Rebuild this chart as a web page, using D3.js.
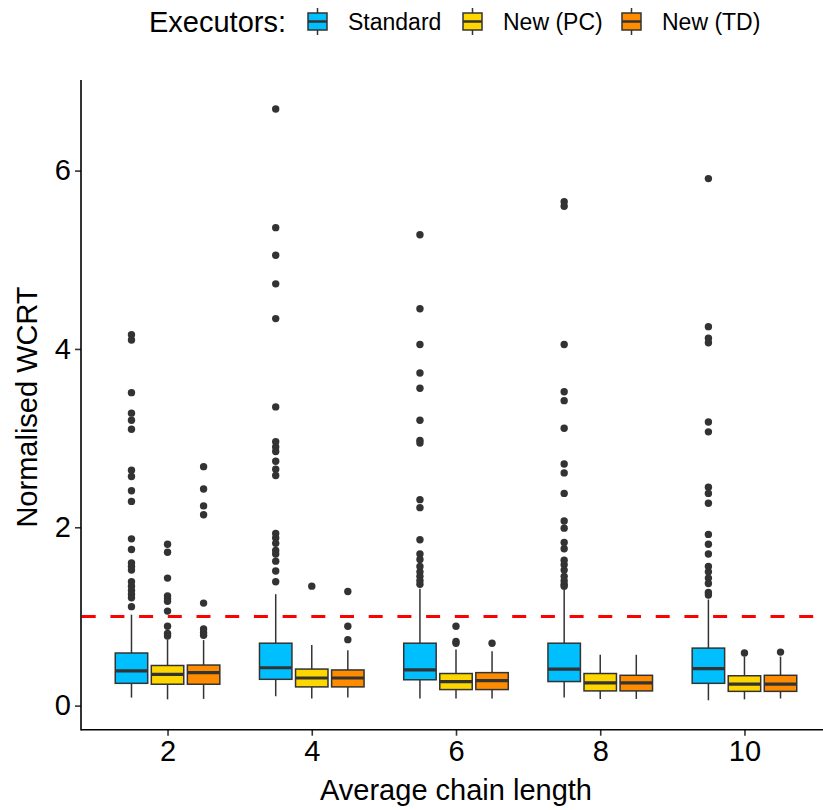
<!DOCTYPE html>
<html>
<head>
<meta charset="utf-8">
<script src="https://cdn.jsdelivr.net/npm/d3@7"></script>
<style>
  body { margin: 0; background: #fff; }
  svg { display: block; font-family: "Liberation Sans", Arial, Helvetica, sans-serif; }
</style>
</head>
<body>
<svg id="chart" width="823" height="810"></svg>
<script>
// chain length groups and executor series
const categories = ["2", "4", "6", "8", "10"]
const seriesNames = ["Standard", "New (PC)", "New (TD)"]
const seriesColors = ["#00BFFF", "#FFD700", "#FF8C00"]
const yTicks = [0, 2, 4, 6]

// box stats per group: [lower whisker, q1, median, q3, upper whisker]
const standardStats = [
  [0.09, 0.25, 0.39, 0.59, 1.02],
  [0.105, 0.295, 0.425, 0.70, 1.25],
  [0.08, 0.29, 0.40, 0.70, 1.31],
  [0.09, 0.27, 0.41, 0.70, 1.31],
  [0.06, 0.25, 0.415, 0.645, 1.19]
]
const pcStats = [
  [0.07, 0.24, 0.35, 0.45, 0.74],
  [0.08, 0.21, 0.31, 0.41, 0.68],
  [0.08, 0.18, 0.27, 0.36, 0.63],
  [0.075, 0.165, 0.255, 0.36, 0.57],
  [0.07, 0.16, 0.24, 0.335, 0.55]
]
const tdStats = [
  [0.075, 0.24, 0.37, 0.455, 0.735],
  [0.09, 0.21, 0.31, 0.40, 0.62],
  [0.08, 0.18, 0.28, 0.37, 0.61],
  [0.075, 0.165, 0.255, 0.34, 0.57],
  [0.08, 0.16, 0.24, 0.34, 0.55]
]

// outliers per group
const standardOutliers = [
  [4.16, 4.10, 3.51, 3.28, 3.20, 3.10, 2.64, 2.57, 2.41, 2.29, 1.87, 1.75, 1.60, 1.56, 1.52, 1.39, 1.34, 1.29, 1.25, 1.21, 1.11],
  [6.69, 5.36, 5.05, 4.73, 4.34, 3.35, 2.96, 2.90, 2.85, 2.74, 2.65, 2.58, 1.93, 1.88, 1.82, 1.74, 1.70, 1.62, 1.51, 1.39],
  [5.28, 4.45, 4.05, 3.73, 3.56, 3.20, 2.975, 2.945, 2.31, 2.22, 1.86, 1.70, 1.64, 1.56, 1.50, 1.45, 1.40, 1.36],
  [5.65, 5.60, 4.05, 3.52, 3.42, 3.11, 2.71, 2.61, 2.38, 2.07, 1.99, 1.83, 1.76, 1.63, 1.58, 1.52, 1.45, 1.40, 1.36, 1.34],
  [5.91, 4.25, 4.12, 4.07, 3.18, 3.07, 2.45, 2.38, 2.27, 1.92, 1.81, 1.70, 1.56, 1.50, 1.43, 1.37, 1.27, 1.24]
]
const pcOutliers = [
  [1.81, 1.72, 1.43, 1.23, 1.20, 1.17, 1.06, 0.89, 0.81, 0.78],
  [1.34],
  [0.89, 0.72, 0.70],
  [],
  [0.59]
]
const tdOutliers = [
  [2.68, 2.43, 2.24, 2.14, 1.15, 0.86, 0.82, 0.79],
  [1.28, 0.89, 0.74],
  [0.70],
  [],
  [0.60]
]

const threshold = 1

const allStats = [standardStats, pcStats, tdStats]
const allOutliers = [standardOutliers, pcOutliers, tdOutliers]

const svg = d3.select("#chart")

const plotLeft = 81, plotRight = 831, plotTop = 80, plotBottom = 729.7

let x = d3.scalePoint()
          .domain(categories)
          .range([plotLeft, plotRight])
          .padding(0.6)

let y = d3.scaleLinear()
          .domain([-0.27, 7.016])
          .range([plotBottom, plotTop])

const step = x.step()
const dodge = step * 0.75 / 3
const boxW = dodge * 0.9
const dark = "#333333"

// threshold line
svg.append("line")
   .attr("x1", plotLeft + 0.7)
   .attr("x2", 823)
   .attr("y1", y(threshold))
   .attr("y2", y(threshold))
   .attr("stroke", "#FF0000")
   .attr("stroke-width", 3)
   .attr("stroke-dasharray", "14,14.7")

// boxes
const boxes = []
allStats.forEach((stats, s) => {
  stats.forEach((st, i) => {
    boxes.push({s: s, cat: categories[i], st: st, out: allOutliers[s][i]})
  })
})

let g = svg.selectAll("g.box")
           .data(boxes)
           .enter()
           .append("g")
           .attr("class", "box")
           .attr("transform", (d) => "translate(" + (x(d.cat) + (d.s - 1) * dodge) + ",0)")

g.append("line")
 .attr("x1", 0).attr("x2", 0)
 .attr("y1", (d) => y(d.st[0]))
 .attr("y2", (d) => y(d.st[1]))
 .attr("stroke", dark)
 .attr("stroke-width", 1.5)

g.append("line")
 .attr("x1", 0).attr("x2", 0)
 .attr("y1", (d) => y(d.st[3]))
 .attr("y2", (d) => y(d.st[4]))
 .attr("stroke", dark)
 .attr("stroke-width", 1.5)

g.append("rect")
 .attr("x", -boxW / 2)
 .attr("width", boxW)
 .attr("y", (d) => y(d.st[3]))
 .attr("height", (d) => y(d.st[1]) - y(d.st[3]))
 .attr("fill", (d) => seriesColors[d.s])
 .attr("stroke", dark)
 .attr("stroke-width", 1.5)

g.append("line")
 .attr("x1", -boxW / 2).attr("x2", boxW / 2)
 .attr("y1", (d) => y(d.st[2]))
 .attr("y2", (d) => y(d.st[2]))
 .attr("stroke", dark)
 .attr("stroke-width", 3.2)

g.selectAll("circle")
 .data((d) => d.out)
 .enter()
 .append("circle")
 .attr("cx", 0)
 .attr("cy", (d) => y(d))
 .attr("r", 3.7)
 .attr("fill", dark)

// axes (domain lines drawn by hand so they meet cleanly at the corner)
let xAxis = d3.axisBottom(x).tickSizeOuter(0).tickSize(6).tickPadding(5)
let yAxis = d3.axisLeft(y).tickValues(yTicks).tickSizeOuter(0).tickSize(6).tickPadding(4)

let gx = svg.append("g")
            .attr("transform", "translate(0," + plotBottom + ")")
            .call(xAxis)
gx.select(".domain").remove()
gx.selectAll(".tick line").attr("stroke", dark).attr("stroke-width", 1.6)
gx.selectAll(".tick text").attr("fill", "#000").style("font-size", "29px")
  .style("font-family", "'Liberation Sans', Arial, sans-serif")

let gy = svg.append("g")
            .attr("transform", "translate(" + plotLeft + ",0)")
            .call(yAxis)
gy.select(".domain").remove()
gy.selectAll(".tick line").attr("stroke", dark).attr("stroke-width", 1.6)
gy.selectAll(".tick text").attr("fill", "#000").style("font-size", "29px")
  .style("font-family", "'Liberation Sans', Arial, sans-serif")

svg.append("line")
   .attr("x1", plotLeft).attr("x2", 823)
   .attr("y1", plotBottom).attr("y2", plotBottom)
   .attr("stroke", "#000").attr("stroke-width", 1.6)

svg.append("line")
   .attr("x1", plotLeft).attr("x2", plotLeft)
   .attr("y1", plotTop).attr("y2", plotBottom + 0.8)
   .attr("stroke", "#000").attr("stroke-width", 1.6)

// axis titles
svg.append("text")
   .attr("x", 456)
   .attr("y", 800)
   .attr("text-anchor", "middle")
   .style("font-size", "29px")
   .text("Average chain length")

svg.append("text")
   .attr("transform", "translate(37,407) rotate(-90)")
   .attr("text-anchor", "middle")
   .style("font-size", "29px")
   .text("Normalised WCRT")

// legend
let legend = svg.append("g")

legend.append("text")
      .attr("x", 149)
      .attr("y", 32)
      .style("font-size", "29px")
      .text("Executors:")

const keyX = [307, 462, 621]
let key = legend.selectAll("g.key")
                .data(seriesNames)
                .enter()
                .append("g")
                .attr("class", "key")
                .attr("transform", (d, i) => "translate(" + keyX[i] + ",0)")

key.append("line")
   .attr("x1", 10.5).attr("x2", 10.5)
   .attr("y1", 8).attr("y2", 35)
   .attr("stroke", dark)
   .attr("stroke-width", 1.5)

key.append("rect")
   .attr("x", 1)
   .attr("y", 13)
   .attr("width", 19)
   .attr("height", 17)
   .attr("fill", (d, i) => seriesColors[i])
   .attr("stroke", dark)
   .attr("stroke-width", 1.5)

key.append("line")
   .attr("x1", 1).attr("x2", 20)
   .attr("y1", 21.5).attr("y2", 21.5)
   .attr("stroke", dark)
   .attr("stroke-width", 2.5)

key.append("text")
   .attr("x", 41)
   .attr("y", 30)
   .style("font-size", "23px")
   .text((d) => d)
</script>
</body>
</html>
